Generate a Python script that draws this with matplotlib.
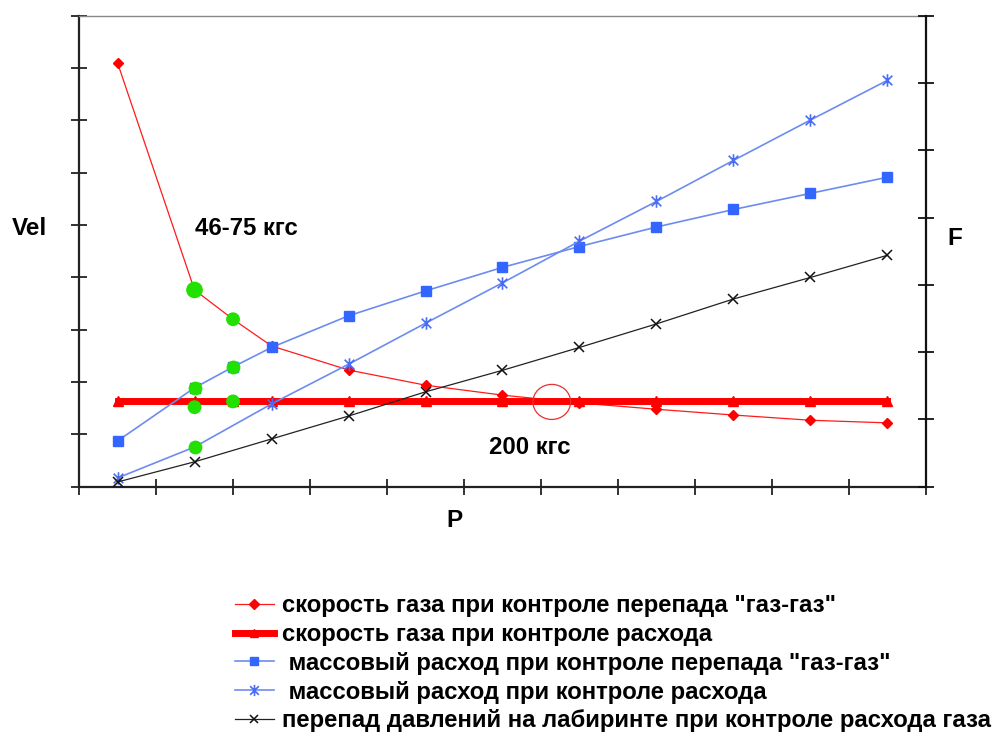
import numpy as np
import matplotlib
matplotlib.use("Agg")
import matplotlib.pyplot as plt
from matplotlib.path import Path
from matplotlib.patches import Ellipse

plt.rcParams['font.family'] = ['Liberation Sans', 'DejaVu Sans']

# pressure positions (category centres, one extra point at 2.0)
p_cat = [0.5, 1.5, 2.5, 3.5, 4.5, 5.5, 6.5, 7.5, 8.5, 9.5, 10.5]
p_ext = [0.5, 1.5, 2.0, 2.5, 3.5, 4.5, 5.5, 6.5, 7.5, 8.5, 9.5, 10.5]

# left axis (Vel)
vel_dp = [8.10, 3.76, 3.20, 2.69, 2.23, 1.94, 1.75, 1.60, 1.48, 1.37, 1.27, 1.22]
vel_flow = [1.63] * 12

# right axis (F)
mass_dp = [0.68, 1.47, 1.78, 2.07, 2.54, 2.91, 3.26, 3.57, 3.86, 4.12, 4.36, 4.60]
mass_flow = [0.13, 0.59, 1.23, 1.82, 2.43, 3.03, 3.65, 4.24, 4.85, 5.45, 6.04]
dp_lab = [0.07, 0.37, 0.71, 1.05, 1.41, 1.73, 2.07, 2.42, 2.79, 3.11, 3.44]

# highlighted points (46-75 kgf range)
hl_vel_x = [1.5, 2.0, 1.5, 2.0]
hl_vel_y = [3.76, 3.20, 1.52, 1.63]
hl_vel_s = [120, 80, 80, 80]
hl_f_x = [1.5, 2.0, 1.5]
hl_f_y = [1.47, 1.78, 0.59]

labels = ['скорость газа при контроле перепада "газ-газ"',
          'скорость газа при контроле расхода',
          ' массовый расход при контроле перепада "газ-газ"',
          ' массовый расход при контроле расхода',
          'перепад давлений на лабиринте при контроле расхода газа']

star = Path([(-1, -1), (1, 1), (-1, 1), (1, -1), (0, -1.3), (0, 1.3)],
            [Path.MOVETO, Path.LINETO] * 3)

fig = plt.figure(figsize=(9.99, 7.38), dpi=100)
ax = fig.add_axes([0.0791, 0.3405, 0.8478, 0.6382])
ax2 = ax.twinx()

l1, = ax.plot(p_ext, vel_dp, color='#ff1a1a', lw=0.9, marker='D', ms=5.5,
              mfc='#ff0000', mec='#ff0000')
l2, = ax.plot(p_ext, vel_flow, color='#ff0000', lw=5, marker='^', ms=7,
              mfc='#ff0000', mec='#ff0000')
l3, = ax2.plot(p_ext, mass_dp, color='#6d8cf0', lw=1.2, marker='s', ms=7,
               mfc='#3366ff', mec='#3366ff')
l4, = ax2.plot(p_cat, mass_flow, color='#6d8cf0', lw=1.2, marker=star, ms=9,
               mec='#4a6cf5', mew=1.2)
l5, = ax2.plot(p_cat, dp_lab, color='#222222', lw=0.9, marker='x', ms=7,
               mec='#111111', mew=1.1)

ax.scatter(hl_vel_x, hl_vel_y, s=hl_vel_s, color='#22e000', zorder=5)
ax2.scatter(hl_f_x, hl_f_y, s=80, color='#22e000', zorder=5)

ax.add_patch(Ellipse((6.14, 1.62), 0.49, 0.67, fill=False,
                     ec='#e83030', lw=0.9, zorder=6))

ax.text(1.5, 4.94, '46-75 кгс', fontsize=17.3, fontweight='bold',
        va='center', ha='left')
ax.text(5.32, 0.74, '200 кгс', fontsize=17.3, fontweight='bold',
        va='center', ha='left')

ax.set_xlim(0, 11)
ax.set_ylim(0, 9)
ax2.set_ylim(0, 7)
ax.set_xticks(np.arange(0, 12))
ax.set_yticks(np.arange(0, 10))
ax2.set_yticks(np.arange(0, 8))
ax.tick_params(direction='inout', length=11, width=1.3, color='#222222',
               labelbottom=False, labelleft=False)
ax2.tick_params(direction='inout', length=11, width=1.3, color='#111111',
                labelright=False)

for s in ['left', 'bottom']:
    ax.spines[s].set_linewidth(1.6)
    ax.spines[s].set_color('#222222')
ax.spines['top'].set_color('#888888')
ax.spines['top'].set_linewidth(1.0)
ax.spines['right'].set_visible(False)
for s in ['left', 'bottom', 'top']:
    ax2.spines[s].set_visible(False)
ax2.spines['right'].set_linewidth(1.6)
ax2.spines['right'].set_color('#111111')

ax.set_ylabel('Vel', rotation=0, fontsize=17.5, fontweight='bold')
ax.yaxis.set_label_coords(-0.059, 0.548)
ax2.set_ylabel('F', rotation=0, fontsize=17.5, fontweight='bold')
ax2.yaxis.set_label_coords(1.034, 0.527)
ax.set_xlabel('P', fontsize=17.5, fontweight='bold')
ax.xaxis.set_label_coords(0.443, -0.0707)
ax.yaxis.label.set_va('center')
ax2.yaxis.label.set_va('center')
ax.xaxis.label.set_va('center')

fig.legend([l1, l2, l3, l4, l5], labels, loc='upper left',
           bbox_to_anchor=(0.235, 0.1946), frameon=False,
           prop={'size': 17.2, 'weight': 'bold'}, handlelength=1.65,
           handletextpad=0.33, labelspacing=0.24, borderpad=0,
           borderaxespad=0, markerscale=0.9)

fig.savefig('out.png', dpi=100)
